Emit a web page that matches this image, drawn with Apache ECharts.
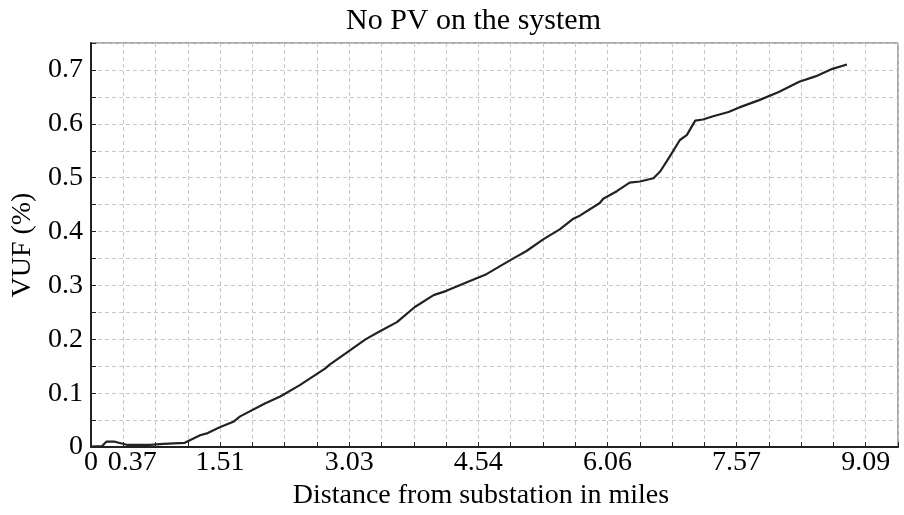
<!DOCTYPE html>
<html>
<head>
<meta charset="utf-8">
<script src="https://cdn.jsdelivr.net/npm/echarts@6/dist/echarts.min.js"></script>
<style>
  html, body { margin: 0; padding: 0; background: #fff; }
  #chart { width: 904px; height: 515px; }
</style>
</head>
<body>
<div id="chart"></div>
<script>
// Distance from substation (miles)
const distance = [0, 0.13, 0.18, 0.28, 0.43, 0.69, 0.85, 1.10, 1.28, 1.37, 1.51, 1.67, 1.75, 2.04, 2.22, 2.45, 2.75, 2.80, 2.98, 3.22, 3.39, 3.59, 3.80, 4.02, 4.17, 4.41, 4.64, 4.92, 5.11, 5.31, 5.50, 5.66, 5.74, 5.97, 6.01, 6.17, 6.32, 6.44, 6.60, 6.68, 6.79, 6.91, 6.99, 7.09, 7.18, 7.30, 7.48, 7.60, 7.84, 8.07, 8.31, 8.50, 8.70, 8.87];
// VUF (%)
const vuf = [0.001, 0.002, 0.010, 0.010, 0.004, 0.004, 0.006, 0.008, 0.022, 0.026, 0.037, 0.047, 0.057, 0.081, 0.094, 0.115, 0.146, 0.153, 0.173, 0.200, 0.215, 0.232, 0.260, 0.282, 0.290, 0.306, 0.321, 0.347, 0.364, 0.386, 0.404, 0.424, 0.430, 0.453, 0.461, 0.475, 0.491, 0.493, 0.499, 0.512, 0.539, 0.570, 0.579, 0.606, 0.608, 0.614, 0.622, 0.630, 0.644, 0.659, 0.678, 0.688, 0.702, 0.710];
// x tick labels, one per tick (blank = unlabeled tick)
const xTickLabels = ['0', '0.37', '', '', '1.51', '', '', '', '3.03', '', '', '', '4.54', '', '', '', '6.06', '', '', '', '7.57', '', '', '', '9.09', ''];
const xTickStep = 0.37875;
const xMax = 9.46875;
const yTickStep = 0.05;
const yMax = 0.75;

const FONT = '"Liberation Serif", "Times New Roman", serif';
const chart = echarts.init(document.getElementById('chart'), null, { renderer: 'canvas' });

const data = distance.map((d, i) => [d, vuf[i]]);

chart.setOption({
  animation: false,
  backgroundColor: '#fff',
  title: {
    text: 'No PV on the system',
    left: 346,
    top: 6,
    padding: 0,
    textStyle: { fontFamily: FONT, fontSize: 30, fontWeight: 'normal', color: '#000' }
  },
  grid: {
    left: 91, top: 43, width: 807, height: 406,
    show: true, borderColor: '#555', borderWidth: 1, backgroundColor: 'transparent'
  },
  xAxis: {
    type: 'value',
    min: 0, max: xMax, interval: xTickStep,
    name: 'Distance from substation in miles',
    nameLocation: 'middle',
    nameGap: 32,
    nameTextStyle: { fontFamily: FONT, fontSize: 28, color: '#000', padding: [0, 27, 0, 0] },
    axisLine: { show: true, onZero: false, lineStyle: { color: '#222', width: 2 } },
    axisTick: { show: true, inside: true, length: 5, lineStyle: { color: '#222', width: 1 } },
    axisLabel: {
      fontFamily: FONT, fontSize: 28, color: '#000', margin: 2,
      showMaxLabel: true, showMinLabel: true, hideOverlap: false,
      formatter: function (v) {
        const idx = Math.round(v / xTickStep);
        const s = xTickLabels[idx] || '';
        if (s === '0.37') return '{s|' + s + '}';
        return s;
      },
      rich: { s: { fontFamily: FONT, fontSize: 28, color: '#000', padding: [0, 0, 0, 18] } }
    },
    splitLine: { show: true, lineStyle: { color: '#c8c8c8', type: [4, 3], width: 1 } }
  },
  yAxis: {
    type: 'value',
    min: 0, max: yMax, interval: yTickStep,
    name: 'VUF (%)',
    nameLocation: 'middle',
    nameGap: 44,
    nameTextStyle: { fontFamily: FONT, fontSize: 28, color: '#000' },
    axisLine: { show: true, lineStyle: { color: '#222', width: 2 } },
    axisTick: { show: true, inside: true, length: 5, lineStyle: { color: '#222', width: 1 } },
    axisLabel: {
      fontFamily: FONT, fontSize: 28, color: '#000', margin: 8,
      formatter: function (v) {
        const k = Math.round(v / yTickStep);
        if (k % 2 !== 0 || k >= 15) return '';
        return String(+(v).toFixed(1));
      }
    },
    splitLine: { show: true, lineStyle: { color: '#c8c8c8', type: [4, 3], width: 1 } }
  },
  series: [{
    type: 'line',
    data: data,
    showSymbol: false,
    symbol: 'none',
    smooth: false,
    lineStyle: { color: '#222', width: 2.2 },
    z: 5
  }]
});
</script>
</body>
</html>
